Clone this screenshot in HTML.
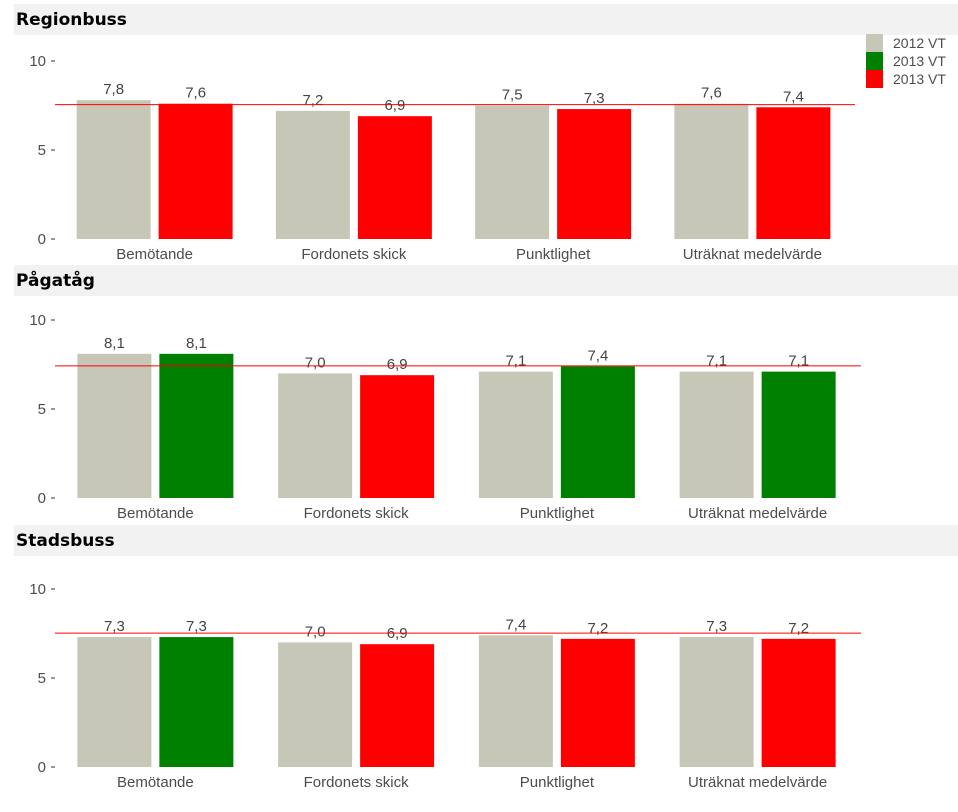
<!DOCTYPE html>
<html><head><meta charset="utf-8"><style>
body{margin:0;background:#fff;}
svg{display:block;font-family:"Liberation Sans",Arial,sans-serif;}
</style></head><body>
<svg id="chart" width="958" height="812"></svg>
<script>
const categories = ["Bemötande","Fordonets skick","Punktlighet","Uträknat medelvärde"];
const panelTitles = ["Regionbuss","Pågatåg","Stadsbuss"];
const values2012 = [[7.8,7.2,7.5,7.6],[8.1,7.0,7.1,7.1],[7.3,7.0,7.4,7.3]];
const values2013 = [[7.6,6.9,7.3,7.4],[8.1,6.9,7.4,7.1],[7.3,6.9,7.2,7.2]];
const status2013 = [["r","r","r","r"],["g","r","g","g"],["g","r","r","r"]];
const refLine = [7.55,7.42,7.52];
const yTicks = [0,5,10];
const legendLabels = ["2012 VT","2013 VT","2013 VT"];

const NS="http://www.w3.org/2000/svg";
const svg=document.getElementById('chart');
const C={gray:"#c7c7b8",g:"#008000",r:"#ff0000"};
function mk(t,a,p){const e=document.createElementNS(NS,t);for(const k in a)e.setAttribute(k,a[k]);(p||svg).appendChild(e);return e;}
const panelTops=[4,265,525];
const zeroY=[239,498,767];
const unit=17.8;
const xRanges=[[55,852],[55,858],[55,858]];
function fmt(v){return v.toFixed(1).replace('.',',');}

panelTitles.forEach((title,p)=>{
  const g=mk('g',{});
  
  
  const hb=mk('rect',{x:14,y:panelTops[p],width:944,height:31,fill:"#f2f2f2"},g);
  
  
  const ht=mk('text',{x:16,y:panelTops[p]+21,'font-family':'"DejaVu Sans",sans-serif','font-weight':'bold','font-size':17,fill:'#000'},g);
  ht.textContent=title;
  
  
  const y=v=>zeroY[p]-v*unit;
  const [x0,x1]=xRanges[p];
  const step=(x1-x0)/categories.length;
  yTicks.forEach(t=>{
    const tl=mk('text',{x:46,y:y(t)+5,'text-anchor':'end','font-size':15,fill:'#4d4d4d'},g);
    tl.textContent=t;
    
    
    const tm=mk('line',{x1:51,x2:55,y1:y(t),y2:y(t),stroke:'#333','stroke-width':1},g);
    
    
  });
  categories.forEach((c,i)=>{
    const cx=x0+step*(i+0.5);
    const bw=74,gap=8;
    [[values2012[p][i],C.gray,cx-gap/2-bw,'2012'],[values2013[p][i],C[status2013[p][i]],cx+gap/2,'2013']].forEach(([v,col,bx,yr])=>{
      const b=mk('rect',{x:bx,y:y(v),width:bw,height:v*unit,fill:col},g);
      
      
      const vl=mk('text',{x:bx+bw/2,y:y(v)-6,'text-anchor':'middle','font-size':15,fill:'#444'},g);
      vl.textContent=fmt(v);
      
      
    });
    const cl=mk('text',{x:cx,y:zeroY[p]+20,'text-anchor':'middle','font-size':15,fill:'#4d4d4d'},g);
    cl.textContent=c;
    
    
  });
  const rl=mk('line',{x1:x0,x2:x1+3,y1:y(refLine[p]),y2:y(refLine[p]),stroke:'#ff0000','stroke-width':1},g);
  
  
});

const legCols=[C.gray,C.g,C.r];
legendLabels.forEach((l,i)=>{
  const r=mk('rect',{x:866,y:34+i*18,width:17,height:18,fill:legCols[i]});
  
  
  const t=mk('text',{x:893,y:48+i*18,'font-size':14,fill:'#4d4d4d'});
  t.textContent=l;
  
  
});
</script>
</body></html>
